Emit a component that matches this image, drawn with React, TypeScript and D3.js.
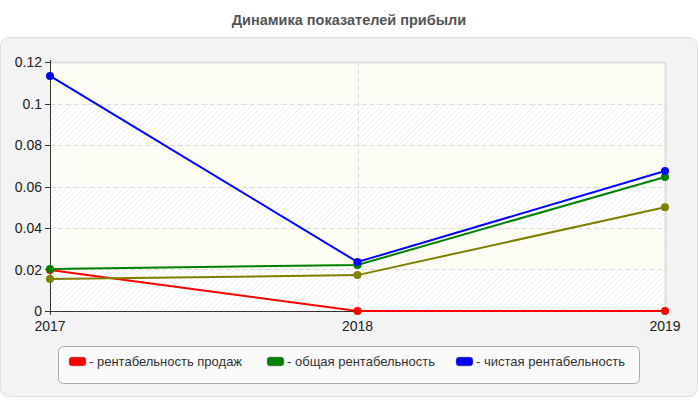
import React from "react";
import * as d3 from "d3";

const years = ["2017", "2018", "2019"];
const salesProfitability = [0.0198, 0, 0];
const totalProfitability = [0.0202, 0.0222, 0.0646];
const netProfitability = [0.1133, 0.0236, 0.0675];
const extraSeries = [0.0154, 0.0173, 0.05];
const yTicks = [0, 0.02, 0.04, 0.06, 0.08, 0.1, 0.12];
const yTickLabels = ["0", "0.02", "0.04", "0.06", "0.08", "0.1", "0.12"];

const series = [
  { name: "рентабельность продаж", values: salesProfitability, color: "#ff0000", legend: true },
  { name: "общая рентабельность", values: totalProfitability, color: "#008000", legend: true },
  { name: "extra", values: extraSeries, color: "#808000", legend: false },
  { name: "чистая рентабельность", values: netProfitability, color: "#0000ff", legend: true },
];
const drawOrder = [0, 2, 1, 3];

export default function App() {
  const W = 700, H = 400;
  const left = 50, right = 665, top = 62, bottom = 311;
  const x = d3.scalePoint<string>().domain(years).range([left, right]);
  const y = d3.scaleLinear().domain([0, 0.12]).range([bottom, top]);
  const line = d3.line<number>().x((_, i) => x(years[i])!).y((d) => y(d));
  const font = "Liberation Sans, Arial, sans-serif";

  const legendItems = series.filter((s) => s.legend);
  const legendX = [69, 267, 456];

  return (
    <svg width={W} height={H} style={{ position: "absolute", left: 0, top: 0 }} fontFamily={font}>
      <defs>
        <pattern id="hatch" width="4" height="4" patternUnits="userSpaceOnUse" patternTransform="rotate(45)">
          <rect width="4" height="4" fill="#ffffff" />
          <line x1="0" y1="0" x2="0" y2="4" stroke="#ebebeb" strokeWidth="1.5" />
        </pattern>
      </defs>
      <rect x={0} y={0} width={W} height={H} fill="#ffffff" />
      <text x={349} y={25} textAnchor="middle" fontSize={14.5} fontWeight="bold" fill="#555">
        Динамика показателей прибыли
      </text>
      <rect x={0.5} y={37.5} width={697} height={359} rx={8} fill="#f3f3f3" stroke="#e0e0e0" />
      {/* plot background */}
      <rect x={left} y={top} width={right - left} height={bottom - top} fill="url(#hatch)" />
      {yTicks.slice(0, -1).map((t, i) =>
        i % 2 === 1 ? (
          <rect key={"b" + i} x={left} y={y(yTicks[i + 1])} width={right - left}
            height={y(t) - y(yTicks[i + 1])} fill="#fdfdf5" opacity={0.85} />
        ) : null
      )}
      {/* grid */}
      {yTicks.slice(1, -1).map((t) => (
        <line key={"g" + t} x1={left} x2={right} y1={Math.round(y(t)) + 0.5} y2={Math.round(y(t)) + 0.5}
          stroke="#dcdcdc" strokeDasharray="5,3" />
      ))}
      <line x1={Math.round(x("2018")!) + 0.5} x2={Math.round(x("2018")!) + 0.5} y1={top} y2={bottom}
        stroke="#dcdcdc" strokeDasharray="5,3" />
      <line x1={left} x2={right} y1={top + 0.5} y2={top + 0.5} stroke="#dddddd" strokeWidth={2} />
      <line x1={right + 0.5} x2={right + 0.5} y1={top} y2={bottom} stroke="#dddddd" strokeWidth={2} />
      {/* axes */}
      <line x1={left + 0.5} x2={left + 0.5} y1={top - 2} y2={bottom} stroke="#333" />
      <line x1={left} x2={right} y1={bottom + 0.5} y2={bottom + 0.5} stroke="#333" />
      {yTicks.map((t, i) => (
        <g key={"yt" + t}>
          <line x1={left - 5} x2={left} y1={Math.round(y(t)) + 0.5} y2={Math.round(y(t)) + 0.5} stroke="#333" />
          <text x={left - 8} y={y(t) + 5} textAnchor="end" fontSize={14} fill="#222">{yTickLabels[i]}</text>
        </g>
      ))}
      {years.map((yr) => (
        <g key={"xt" + yr}>
          <line x1={Math.round(x(yr)!) + 0.5} x2={Math.round(x(yr)!) + 0.5} y1={bottom} y2={bottom + 4} stroke="#333" />
          <text x={x(yr)!} y={bottom + 20} textAnchor="middle" fontSize={14} fill="#222">{yr}</text>
        </g>
      ))}
      {/* series */}
      {drawOrder.map((si) => {
        const s = series[si];
        return (
          <g key={"s" + si}>
            <path d={line(s.values)!} fill="none" stroke={s.color} strokeWidth={2} />
            {s.values.map((v, i) => (
              <circle key={i} cx={x(years[i])!} cy={y(v)} r={4} fill={s.color} />
            ))}
          </g>
        );
      })}
      {/* legend */}
      <rect x={58.5} y={346.5} width={581} height={37} rx={5} fill="#fafafa" stroke="#aaaaaa" />
      {legendItems.map((s, i) => (
        <g key={"l" + i}>
          <rect x={legendX[i]} y={357} width={17} height={9} rx={3} fill={s.color} stroke="#999" strokeWidth={0.5} />
          <text x={legendX[i] + 20} y={366} fontSize={13} fill="#333">- {s.name}</text>
        </g>
      ))}
    </svg>
  );
}
